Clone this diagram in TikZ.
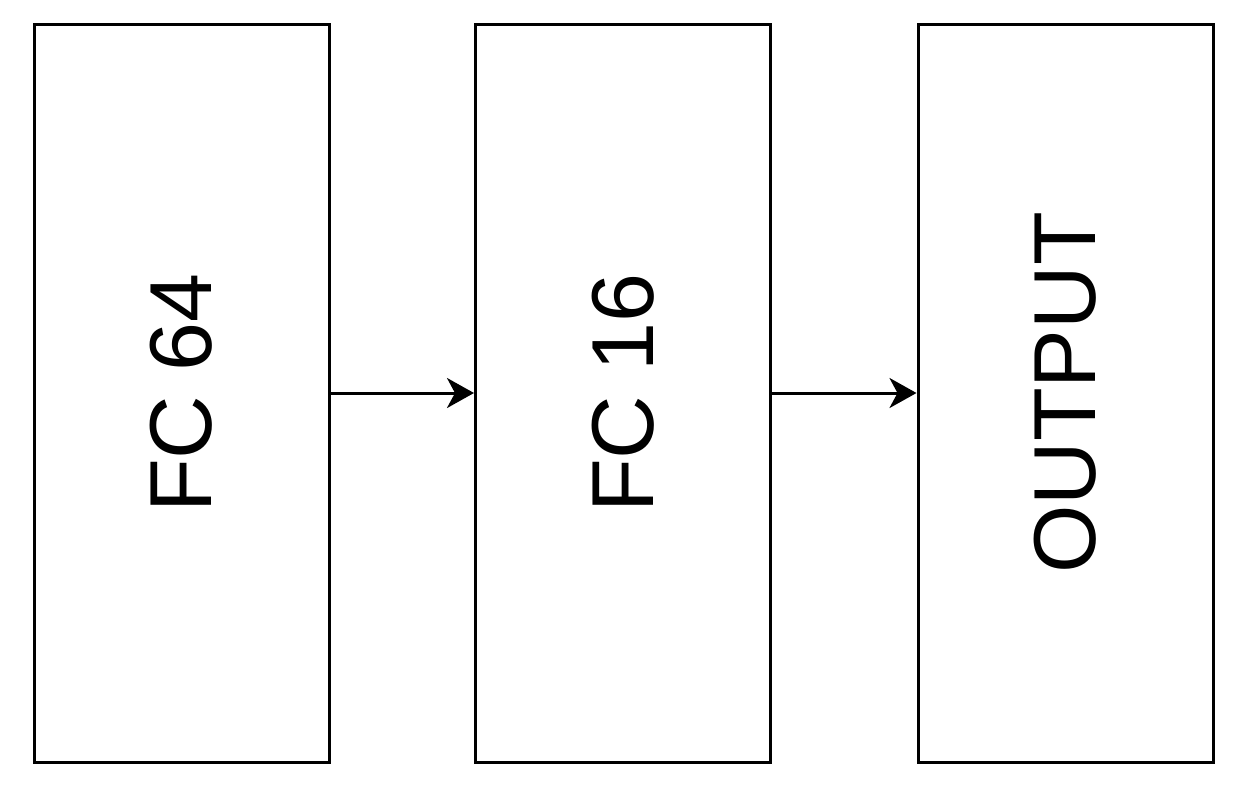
\documentclass[tikz,border=0pt]{standalone}
\usepackage{fontspec}
\setmainfont{Liberation Sans}
\usetikzlibrary{arrows.meta}
\begin{document}
\begin{tikzpicture}[x=1pt,y=-1pt,
  blk/.style={draw=black,line width=3pt,minimum width=295pt,minimum height=738pt,inner sep=0pt,
    font=\fontsize{88}{88}\selectfont},
  conn/.style={line width=3pt,-{Stealth[length=27pt,width=30pt,inset=8pt]}}]
\useasboundingbox (0,0) rectangle (1260,804);
\node[blk] (fc64) at (181.5,393) {};
\node[blk] (fc16) at (623,393) {};
\node[blk] (out) at (1065.5,393) {};
\node[rotate=90,font=\fontsize{88}{88}\selectfont,inner sep=0pt] (t1) at (fc64) {FC 64};
\node[rotate=90,font=\fontsize{88}{88}\selectfont,inner sep=0pt] (t2) at (fc16) {FC 16};
\node[rotate=90,font=\fontsize{88}{88}\selectfont,inner sep=0pt] (t3) at (out) {OUTPUT};
\draw[conn] (fc64.east) -- (fc16.west);
\draw[conn] (fc16.east) -- (out.west);
\end{tikzpicture}
\end{document}
